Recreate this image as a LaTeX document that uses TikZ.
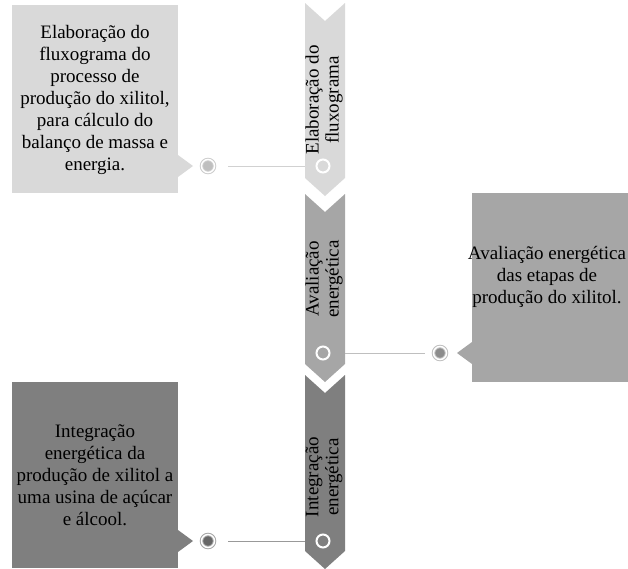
\documentclass[tikz,border=0pt]{standalone}
\usepackage{fontspec}
\setmainfont{Liberation Serif}
\usetikzlibrary{positioning}
\definecolor{greyLight}{HTML}{D9D9D9}
\definecolor{greyMid}{HTML}{A6A6A6}
\definecolor{greyDark}{HTML}{7F7F7F}
\tikzstyle{step_box}=[rectangle, inner sep=0pt, outer sep=0pt, minimum width=166pt]
\tikzstyle{step_text}=[align=center, inner sep=0pt, font=\fontsize{19}{22}\selectfont]
\tikzstyle{chev_text}=[align=center, inner sep=0pt, rotate=90, font=\fontsize{19}{20}\selectfont]
\tikzstyle{marker}=[circle, minimum size=13pt, inner sep=0pt, outer sep=0pt, line width=1pt, double=white, double distance=1.5pt]
\tikzstyle{chev_dot}=[circle, minimum size=13pt, inner sep=0pt, outer sep=0pt, draw=white, line width=2pt]
\tikzstyle{link}=[line width=0.8pt]

\begin{document}
\begin{tikzpicture}[x=1pt, y=-1pt]
          \useasboundingbox (0,0) rectangle (628,568);
          \clip (0,0) rectangle (628,568);
          % chevrons
          \fill[greyLight] (305,3) -- (325,21) -- (345,3) -- (345,178) -- (325,196) -- (305,178) -- cycle;
          \fill[greyMid] (305,194) -- (325,212) -- (345,194) -- (345,364) -- (325,382) -- (305,364) -- cycle;
          \fill[greyDark] (305,375) -- (325,393) -- (345,375) -- (345,551) -- (325,569) -- (305,551) -- cycle;
          \node[chev_text] (lab1) at (324,100) {Elaboração do\\fluxograma};
          \node[chev_text] (lab2) at (324,279) {Avaliação\\energética};
          \node[chev_text] (lab3) at (324,477) {Integração\\energética};
          \node[chev_dot, fill=greyLight] (c1) at (323,166) {};
          \node[chev_dot, fill=greyMid] (c2) at (323,353) {};
          \node[chev_dot, fill=greyDark] (c3) at (323,541) {};
          % boxes
          \node[step_box, fill=greyLight, minimum height=188pt] (box1) at (95,99) {};
          \fill[greyLight] (178,155) -- (193,166) -- (178,177) -- cycle;
          \node[step_text] (txt1) at (95,100) {Elaboração do\\fluxograma do\\processo de\\produção do xilitol,\\para cálculo do\\balanço de massa e\\energia.};
          \node[step_box, fill=greyMid, minimum height=189pt] (box2) at (555,287.5) {};
          \fill[greyMid] (472,342) -- (457,353) -- (472,364) -- cycle;
          \node[step_text] (txt2) at (547,277) {Avaliação energética\\das etapas de\\produção do xilitol.};
          \node[step_box, fill=greyDark, minimum height=186pt] (box3) at (95,475) {};
          \fill[greyDark] (178,530) -- (193,541) -- (178,552) -- cycle;
          \node[step_text] (txt3) at (95,475) {Integração\\energética da\\produção de xilitol a\\uma usina de açúcar\\e álcool.};
          % markers
          \node[marker, draw=black!20, fill=black!25] (m1) at (208,166) {};
          \node[marker, draw=black!25, fill=black!45] (m2) at (440,353) {};
          \node[marker, draw=black!35, fill=black!60] (m3) at (208,541) {};
          \draw[link, draw=black!18, shorten <=13.5pt, shorten >=11.5pt] (m1) -- (c1);
          \draw[link, draw=black!25, shorten <=15.5pt, shorten >=8.5pt] (c2) -- (m2);
          \draw[link, draw=black!40, shorten <=13.5pt, shorten >=11.5pt] (m3) -- (c3);
        \end{tikzpicture}
\end{document}
